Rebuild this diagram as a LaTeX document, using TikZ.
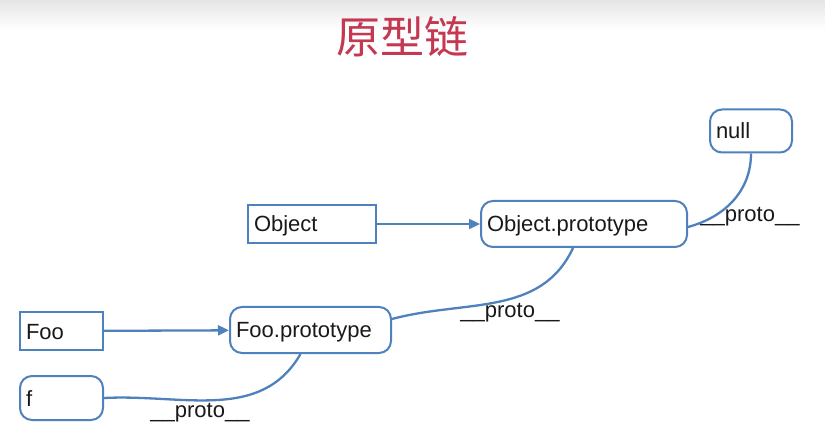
\documentclass[tikz,border=0pt]{standalone}
\usepackage{fontspec}
\setmainfont{Liberation Sans}
\newfontfamily\cjk{Noto Sans CJK SC}
\usetikzlibrary{arrows.meta}
\definecolor{linkblue}{RGB}{79,129,189}
\definecolor{titlered}{RGB}{196,56,82}
\tikzset{
  objbox/.style={draw=linkblue, line width=2pt, fill=white, inner xsep=6pt,
    align=left, font=\fontsize{22}{26}\selectfont, text=black!90,
    text height=17pt, text depth=1pt},
  protobox/.style={objbox, rounded corners=12pt},
  link/.style={draw=linkblue, line width=2.3pt},
  protolabel/.style={font=\fontsize{22}{26}\selectfont, text=black!90}
}
\begin{document}
\begin{tikzpicture}[x=1pt,y=1pt]
  \useasboundingbox (0,0) rectangle (825,445);
  \fill[white] (0,0) rectangle (825,445);
  \shade[top color=black!10, bottom color=white] (0,415) rectangle (825,445);
  % title
  \node[text=titlered, font=\cjk\fontsize{44}{50}\selectfont] (title) at (402,408) {原型链};
  % boxes
  \node[protobox, text width=70pt, minimum height=43pt] (null) at (751,314) {null};
  \node[objbox, text width=116pt, minimum height=38pt] (object) at (312,221) {Object};
  \node[protobox, text width=194pt, minimum height=46pt] (objproto) at (584,221) {Object.prototype};
  \node[objbox, text width=71pt, minimum height=38pt] (foo) at (61.5,114) {Foo};
  \node[protobox, text width=149pt, minimum height=46pt] (fooproto) at (310.5,115) {Foo.prototype};
  \node[protobox, text width=71pt, minimum height=44pt] (f) at (61.5,47) {f};
  % prototype links
  \draw[link, -{Triangle[length=11pt,width=10pt]}] (object) -- (objproto);
  \draw[link, -{Triangle[length=11pt,width=10pt]}] (foo) -- (fooproto);
  \draw[link] (null.south) to[out=-90, in=15] ([yshift=-3pt]objproto.east);
  \draw[link] ([xshift=-11pt]objproto.south) to[out=-115, in=15] ([yshift=11pt]fooproto.east);
  \draw[link] ([xshift=-10pt]fooproto.south) to[out=-120, in=3] (f.east);
  % labels
  \node[protolabel] (lbl1) at (750,228) {\_\_proto\_\_};
  \node[protolabel] (lbl2) at (510,132) {\_\_proto\_\_};
  \node[protolabel] (lbl3) at (200,32) {\_\_proto\_\_};
\end{tikzpicture}
\end{document}
